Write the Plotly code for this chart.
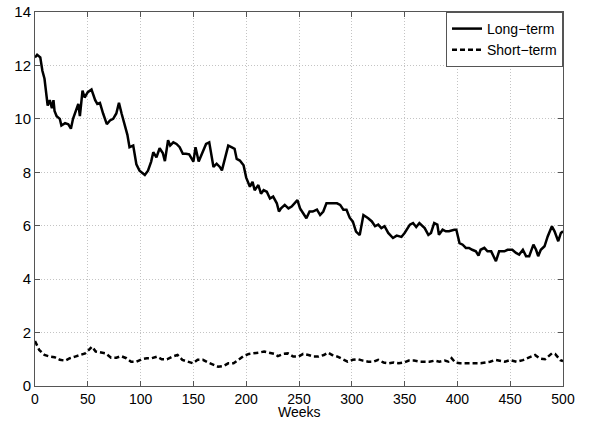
import plotly.graph_objects as go

# Long-term series (weeks, value)
long_weeks = [0, 2, 5, 7, 9, 10.5, 12, 14, 16, 17.5, 18.5, 20.5, 23.5, 25, 28.5, 31.5, 34, 36, 39, 41,
              42.5, 45, 47, 50, 53.5, 57, 59, 61.5, 64.5, 68, 71, 74, 77, 79.5, 82, 85, 87.5, 89.5, 93, 96,
              99, 104, 107, 110, 112, 115, 118, 121, 123, 126, 128, 131, 134, 137, 140, 143, 146, 150, 152, 155,
              159, 162, 165, 169, 172, 175, 177, 180, 183, 186, 189, 191, 194, 197.5, 200, 203.5, 206, 208, 211.5, 214,
              216.5, 219.5, 222.5, 225.5, 229, 231, 233, 236.5, 240, 243, 246, 248.5, 251, 254, 257, 260, 263, 267, 270, 273,
              276, 279, 282, 286, 289, 292, 295, 298, 301, 304, 307.5, 311, 315.5, 319, 322, 325, 328, 331, 334.5, 339,
              342.5, 347, 350, 355, 358, 361, 364, 369, 372.5, 375, 378, 381, 382.5, 386, 389, 392, 397, 399, 402, 405,
              408, 411, 414, 417.5, 420, 422, 425.5, 428.5, 432, 436.5, 439.5, 444.5, 447.5, 452, 455.5, 458.5, 462, 465,
              468, 472, 474.5, 476.5, 479, 482.5, 485.5, 489.5, 492, 495.5, 498, 500]
long_vals = [12.3, 12.4, 12.3, 11.8, 11.5, 10.95, 10.5, 10.7, 10.4, 10.7, 10.3, 10.1, 10.0, 9.75, 9.84, 9.8, 9.63, 10.0, 10.3, 10.56,
             10.1, 11.06, 10.8, 11.0, 11.1, 10.7, 10.56, 10.6, 10.2, 9.8, 9.94, 10.0, 10.2, 10.6, 10.2, 9.7, 9.4, 8.94, 9.0, 8.3,
             8.06, 7.9, 8.06, 8.4, 8.75, 8.56, 8.9, 8.72, 8.42, 9.2, 9.0, 9.12, 9.06, 8.94, 8.69, 8.69, 8.67, 8.4, 8.94, 8.4,
             8.81, 9.06, 9.12, 8.2, 8.32, 8.2, 8.07, 8.57, 9.0, 8.94, 8.88, 8.5, 8.44, 8.26, 7.8, 7.46, 7.64, 7.33, 7.52, 7.2,
             7.33, 7.27, 7.02, 7.09, 6.84, 6.53, 6.65, 6.78, 6.65, 6.72, 6.84, 6.96, 6.65, 6.47, 6.28, 6.53, 6.53, 6.6, 6.4, 6.53,
             6.84, 6.84, 6.84, 6.84, 6.78, 6.6, 6.6, 6.3, 6.15, 5.78, 5.65, 6.4, 6.28, 6.16, 5.98, 6.04, 5.91, 5.98, 5.73, 5.54,
             5.63, 5.58, 5.73, 6.04, 6.1, 5.95, 6.1, 5.91, 5.66, 5.73, 6.1, 6.04, 5.66, 5.85, 5.79, 5.79, 5.85, 5.85, 5.35, 5.29,
             5.17, 5.17, 5.1, 5.04, 4.88, 5.1, 5.17, 5.04, 5.04, 4.67, 5.04, 5.04, 5.1, 5.1, 4.98, 4.92, 5.1, 4.86,
             4.86, 5.29, 5.1, 4.86, 5.1, 5.23, 5.6, 5.98, 5.79, 5.42, 5.73, 5.79]

# Short-term series (weeks, value)
short_weeks = [0, 1, 4, 9, 14, 18.5, 23.5, 28.5, 33, 38, 43, 47.5, 51, 54, 57.5, 62, 67, 72, 77, 81.5,
               86.5, 91, 96, 101, 106, 110.5, 115.5, 120, 125, 130, 135, 139.5, 144.5, 149.5, 154, 159, 164, 168.5, 173.5, 178.5,
               183, 188, 193, 197.5, 202.5, 207.5, 212, 217, 222, 227, 230, 235, 239.5, 244.5, 249.5, 254, 259, 264, 268.5, 273.5,
               277.5, 281.5, 286.5, 291.5, 296, 301, 306, 310.5, 315.5, 320.5, 325, 330, 335, 339.5, 344.5, 349.5, 354, 359, 364, 368.5,
               373.5, 378.5, 383, 388, 391.5, 394.5, 398, 402.5, 407.5, 412, 417, 422, 426.5, 431, 436, 441, 445, 450, 456, 462,
               469, 473.5, 478, 483, 489.5, 492.5, 497.5, 500]
short_vals = [1.68, 1.6, 1.35, 1.16, 1.1, 1.08, 0.98, 0.95, 1.04, 1.1, 1.16, 1.22, 1.35, 1.47, 1.29, 1.25, 1.22, 1.06, 1.06, 1.12,
              1.04, 0.91, 0.91, 1.0, 1.04, 1.04, 1.1, 1.0, 1.0, 1.1, 1.16, 0.98, 0.91, 0.85, 0.98, 0.98, 0.88, 0.79, 0.72, 0.75,
              0.85, 0.85, 0.98, 1.12, 1.2, 1.22, 1.25, 1.29, 1.25, 1.2, 1.12, 1.2, 1.22, 1.1, 1.1, 1.2, 1.16, 1.1, 1.1, 1.16,
              1.25, 1.16, 1.1, 1.0, 0.91, 0.98, 1.0, 0.95, 0.91, 0.91, 0.98, 0.88, 0.85, 0.88, 0.85, 0.88, 0.95, 0.95, 0.91, 0.91,
              0.91, 0.95, 0.91, 0.95, 0.91, 1.04, 0.88, 0.85, 0.85, 0.85, 0.85, 0.85, 0.88, 0.91, 0.98, 0.95, 0.91, 0.97, 0.91, 0.97,
              1.07, 1.16, 1.03, 1.0, 1.22, 1.2, 0.97, 0.93]

x_ticks = [0, 50, 100, 150, 200, 250, 300, 350, 400, 450, 500]
y_ticks = [0, 2, 4, 6, 8, 10, 12, 14]
x_label = "Weeks"

fig = go.Figure()
fig.add_trace(go.Scatter(x=long_weeks, y=long_vals, mode="lines", name="Long\u2212term",
                         line=dict(color="black", width=2.5)))
fig.add_trace(go.Scatter(x=short_weeks, y=short_vals, mode="lines", name="Short\u2212term",
                         line=dict(color="black", width=2.5, dash="5px,3px")))

axis_common = dict(showline=True, linecolor="#555555", linewidth=1, mirror="allticks",
                   ticks="inside", ticklen=5, tickcolor="#555555",
                   showgrid=True, gridcolor="#c4c4c4", griddash="1px,2px", gridwidth=1,
                   zeroline=False, automargin=False,
                   tickfont=dict(size=15, color="black"))

fig.update_xaxes(range=[0, 500], tickvals=x_ticks, **axis_common)
fig.update_yaxes(range=[0, 14], tickvals=y_ticks, **axis_common)
fig.update_xaxes(tickfont=dict(size=14))

fig.add_annotation(text=x_label, xref="paper", yref="paper", x=0.5, y=-35 / 374,
                   xanchor="center", yanchor="bottom", showarrow=False, borderpad=0,
                   font=dict(size=14, color="black"))

fig.update_layout(
    width=591, height=421,
    margin=dict(l=35, r=28, t=12, b=35),
    paper_bgcolor="white", plot_bgcolor="white",
    font=dict(family="Liberation Sans, Arial, sans-serif", color="black"),
    showlegend=True,
    legend=dict(x=1, y=1, xanchor="right", yanchor="top",
                bgcolor="white", bordercolor="#555555", borderwidth=1,
                font=dict(size=14, color="black"), tracegroupgap=0,
                itemwidth=30),
)

fig.write_html("out.html", config={"displayModeBar": False},
               post_script="document.body.style.margin='0';document.body.style.overflow='hidden';")
